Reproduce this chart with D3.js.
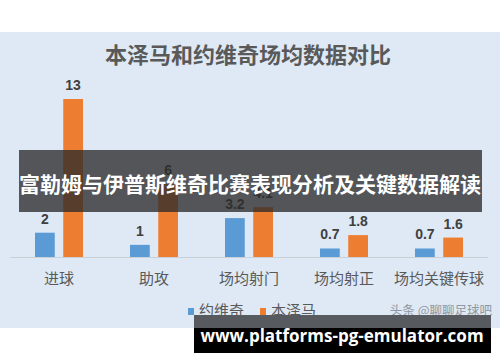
<!DOCTYPE html>
<html>
<head>
<meta charset="utf-8">
<script src="https://cdn.jsdelivr.net/npm/d3@7"></script>
<style>
  body { margin: 0; background: #fff; }
  svg { display: block; font-family: "Noto Sans CJK SC", "Noto Sans", sans-serif; }
</style>
</head>
<body>
<svg id="chart" width="500" height="362"></svg>
<script>
// data
var categories = ["进球", "助攻", "场均射门", "场均射正", "场均关键传球"]
var seriesNames = ["约维奇", "本泽马"]
var jovic = [2, 1, 3.2, 0.7, 0.7]
var benzema = [13, 6, 4.1, 1.8, 1.6]
var colors = ["#5b9bd5", "#ed7d31"]

var svg = d3.select("#chart")

// chart background
svg.append("rect")
    .attr("x", 0).attr("y", 32)
    .attr("width", 500).attr("height", 296)
    .attr("fill", "#dee9f5")

svg.append("text")
    .attr("x", 248).attr("y", 63)
    .attr("text-anchor", "middle")
    .attr("font-size", 22).attr("font-weight", "bold")
    .attr("fill", "#595959")
    .text("本泽马和约维奇场均数据对比")

var baseline = 257
var x = d3.scaleBand()
    .domain(categories)
    .range([11.5, 486.5])

var y = d3.scaleLinear()
    .domain([0, 13])
    .range([baseline, 99])

var xs = d3.scaleBand()
    .domain([0, 1])
    .range([0, 48])
    .paddingInner(0.3)

// axis line
svg.append("line")
    .attr("x1", 10).attr("x2", 488)
    .attr("y1", baseline + 0.5).attr("y2", baseline + 0.5)
    .attr("stroke", "#c8d0d8").attr("stroke-width", 1)

var rows = categories.map((c, i) => ({ cat: c, vals: [jovic[i], benzema[i]] }))

var groups = svg.selectAll(".grp")
    .data(rows)
    .enter().append("g")
    .attr("class", "grp")
    .attr("transform", d => translate(x(d.cat) + x.bandwidth() / 2 - 24, 0))

groups.selectAll("rect")
    .data(d => d.vals)
    .enter().append("rect")
    .attr("x", (v, i) => xs(i))
    .attr("width", xs.bandwidth())
    .attr("y", v => y(v))
    .attr("height", v => baseline - y(v))
    .attr("fill", (v, i) => colors[i])

groups.selectAll("text")
    .data(d => d.vals)
    .enter().append("text")
    .attr("x", (v, i) => xs(i) + xs.bandwidth() / 2)
    .attr("y", v => y(v) - 9)
    .attr("text-anchor", "middle")
    .attr("font-size", 14).attr("font-weight", "bold")
    .attr("font-family", "Liberation Sans, Arial, sans-serif")
    .attr("fill", "#404040")
    .text(v => v)

// category labels
svg.append("g").selectAll("text")
    .data(categories)
    .enter().append("text")
    .attr("x", d => x(d) + x.bandwidth() / 2)
    .attr("y", 284)
    .attr("text-anchor", "middle")
    .attr("font-size", 15)
    .attr("fill", "#595959")
    .text(d => d)

// legend
var legendX = [188, 260]
var legend = svg.append("g").selectAll("g")
    .data(seriesNames)
    .enter().append("g")
    .attr("transform", (d, i) => translate(legendX[i], 311))
legend.append("rect")
    .attr("x", 0).attr("y", -3)
    .attr("width", 6).attr("height", 7)
    .attr("fill", (d, i) => colors[i])
legend.append("text")
    .attr("x", 11).attr("y", 5)
    .attr("font-size", 15)
    .attr("fill", "#595959")
    .text(d => d)

// watermark
svg.append("text")
    .attr("x", 492).attr("y", 315)
    .attr("text-anchor", "end")
    .attr("font-size", 12.5)
    .attr("fill", "#8e98a3")
    .text("头条 @聊聊足球吧")

// overlay banner
svg.append("rect")
    .attr("x", 19).attr("y", 150)
    .attr("width", 463).attr("height", 62)
    .attr("fill", "#2b2b2b").attr("fill-opacity", 0.78)
svg.append("text")
    .attr("x", 250).attr("y", 192)
    .attr("text-anchor", "middle")
    .attr("font-size", 21).attr("font-weight", "bold")
    .attr("fill", "#ffffff")
    .text("富勒姆与伊普斯维奇比赛表现分析及关键数据解读")

// bottom site box
svg.append("rect")
    .attr("x", 194).attr("y", 315)
    .attr("width", 297).attr("height", 13)
    .attr("fill", "#575b60")
svg.append("rect")
    .attr("x", 194).attr("y", 328)
    .attr("width", 297).attr("height", 25)
    .attr("fill", "#000000")
svg.append("text")
    .attr("x", 342).attr("y", 342)
    .attr("text-anchor", "middle")
    .attr("font-size", 17).attr("font-weight", "bold")
    .attr("font-family", "Open Sans, DejaVu Sans, sans-serif")
    .attr("fill", "#ffffff")
    .text("www.platforms-pg-emulator.com")

function translate(x, y) {
    return "translate(" + x + "," + y + ")"
}
</script>
</body>
</html>
